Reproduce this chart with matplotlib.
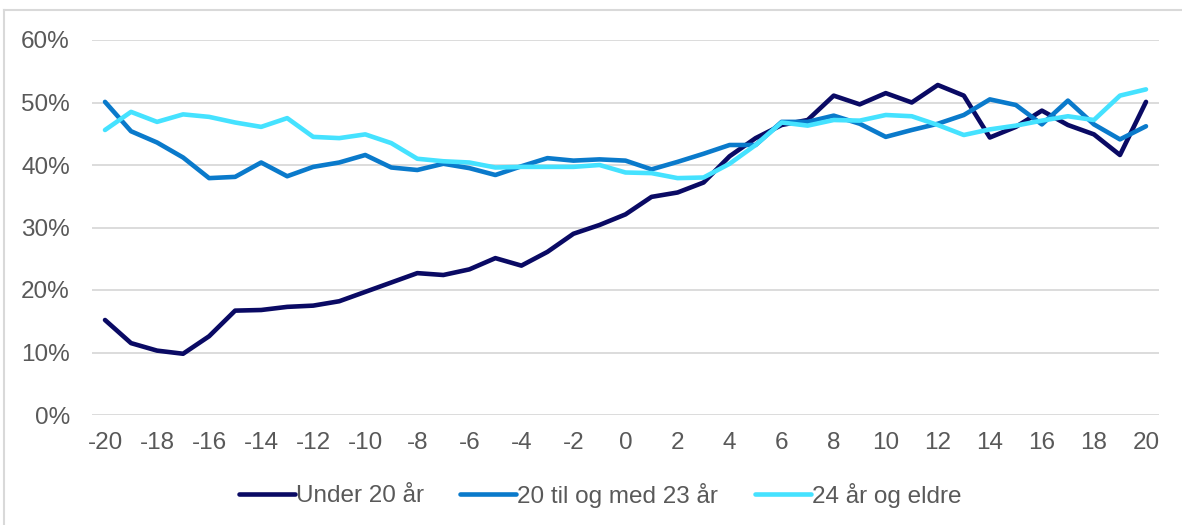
import matplotlib
matplotlib.use("Agg")
import matplotlib.pyplot as plt
from matplotlib.lines import Line2D
from matplotlib.ticker import FuncFormatter

x = list(range(-20, 21))
under20 = [15.2, 11.5, 10.3, 9.8, 12.6, 16.7, 16.8, 17.3, 17.5, 18.2,
           19.7, 21.2, 22.7, 22.4, 23.3, 25.1, 23.9, 26.1, 29.0, 30.4,
           32.1, 34.9, 35.6, 37.2, 41.4, 44.3, 46.4, 47.2, 51.1, 49.7,
           51.5, 50.0, 52.8, 51.1, 44.4, 46.1, 48.7, 46.4, 44.9, 41.6, 50.1]
mid20_23 = [50.1, 45.4, 43.6, 41.2, 37.9, 38.1, 40.4, 38.2, 39.7, 40.4,
            41.6, 39.6, 39.2, 40.2, 39.5, 38.4, 39.8, 41.1, 40.7, 40.9,
            40.7, 39.3, 40.5, 41.8, 43.2, 43.2, 46.9, 46.9, 47.9, 46.6,
            44.5, 45.6, 46.6, 48.0, 50.5, 49.6, 46.5, 50.3, 46.5, 44.1, 46.2]
over24 = [45.6, 48.5, 46.9, 48.1, 47.7, 46.8, 46.1, 47.5, 44.5, 44.3,
          44.9, 43.5, 41.0, 40.6, 40.4, 39.6, 39.7, 39.7, 39.7, 40.0,
          38.8, 38.7, 37.9, 38.0, 40.2, 43.2, 46.8, 46.3, 47.2, 47.1,
          48.0, 47.8, 46.4, 44.8, 45.7, 46.3, 47.1, 47.8, 47.2, 51.1, 52.1]
labels = ["Under 20 år", "20 til og med 23 år", "24 år og eldre"]
colors = ["#0A0A64", "#0A7ACB", "#45E2FF"]
yticks = [0, 10, 20, 30, 40, 50, 60]
xticks = list(range(-20, 21, 2))

plt.rcParams['font.family'] = ['Liberation Sans', 'DejaVu Sans']
plt.rcParams['axes.unicode_minus'] = False
W, H = 1182, 525
fig = plt.figure(figsize=(W / 100, H / 100), dpi=100)
ax = fig.add_axes([92 / W, 1 - 415 / H, (1159 - 92) / W, (415 - 40) / H])

for series, c, lab in zip([under20, mid20_23, over24], colors, labels):
    ax.plot(x, series, color=c, lw=3.3, label=lab, solid_capstyle='round', solid_joinstyle='round')

ax.set_xlim(-20.5, 20.5)
ax.set_ylim(0, 60)
ax.set_yticks(yticks)
ax.set_xticks(xticks)
ax.yaxis.set_major_formatter(FuncFormatter(lambda v, p: f"{int(v)}%"))
ax.grid(axis='y', color='#D9D9D9', lw=1.3)
ax.set_axisbelow(True)
for s in ax.spines.values():
    s.set_visible(False)
ax.tick_params(axis='both', length=0, labelsize=17.5, labelcolor='#595959')
ax.tick_params(axis='y', pad=16)
ax.tick_params(axis='x', pad=12)

fig.legend(loc='center', bbox_to_anchor=(600 / W, 1 - 495 / H), ncol=3, frameon=False,
           fontsize=17.5, labelcolor='#595959', handlelength=2.3, handletextpad=0.05,
           columnspacing=1.5)

# outer border (left and top)
fig.add_artist(Line2D([4 / W, 4 / W], [0, 1 - 10 / H], color='#D9D9D9', lw=1.5, transform=fig.transFigure))
fig.add_artist(Line2D([4 / W, 1], [1 - 10 / H, 1 - 10 / H], color='#D9D9D9', lw=1.5, transform=fig.transFigure))

fig.savefig("out.png", dpi=100)
